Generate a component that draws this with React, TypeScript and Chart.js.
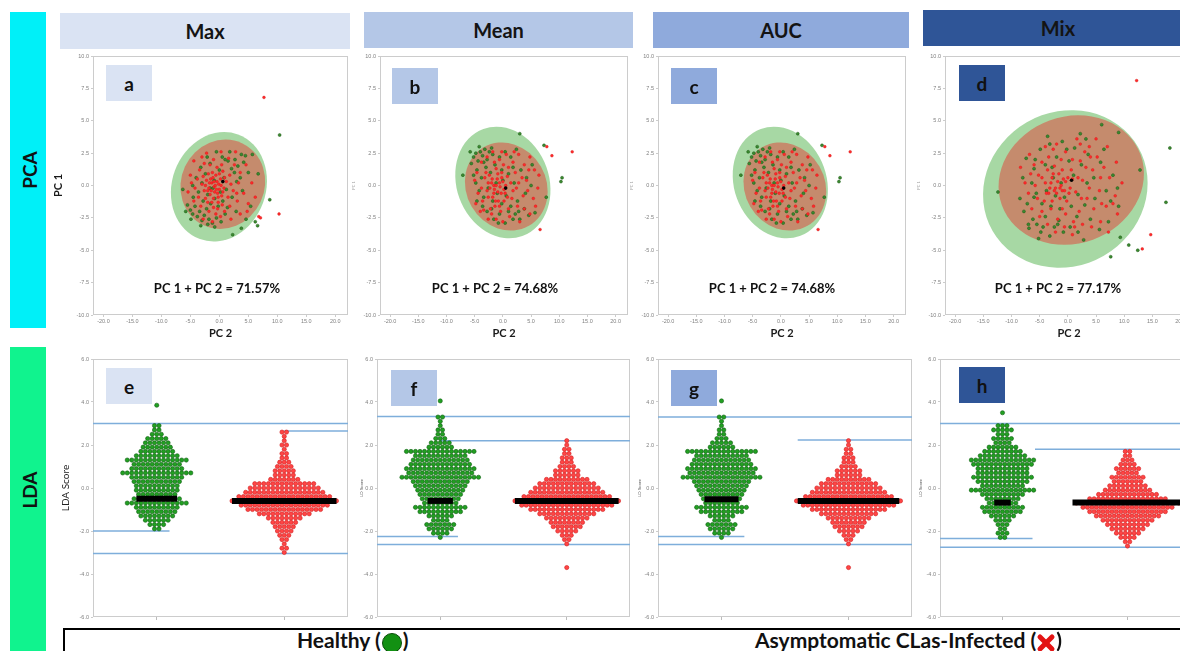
import React, { useEffect, useRef } from "react";
import { Chart, registerables } from "chart.js";

Chart.register(...registerables);

// ---------------- ticks / labels ----------------
const pcaXTicks = [-20, -15, -10, -5, 0, 5, 10, 15, 20];
const pcaYTicks = [-10, -7.5, -5, -2.5, 0, 2.5, 5, 7.5, 10];
const ldaYTicks = [-6, -4, -2, 0, 2, 4, 6];
const ldaGroupCenters = [0.25, 0.75]; // Healthy, Asymptomatic CLas-Infected

const featureSets = ["Max", "Mean", "AUC", "Mix"];
const pcaLetters = ["a", "b", "c", "d"];
const ldaLetters = ["e", "f", "g", "h"];
const pcaVariance = ["PC 1 + PC 2 = 71.57%", "PC 1 + PC 2 = 74.68%", "PC 1 + PC 2 = 74.68%", "PC 1 + PC 2 = 77.17%"];

// ---------------- PCA scores [PC2, PC1] ----------------
const pcaMaxHealthy = [
  [-6.3, -0.3], [-5.5, -1.5], [-5.0, -1.9], [-4.6, -2.2], [-4.2, -1.6], [-3.8, -2.4], [-3.4, -2.0], [-3.0, -2.7],
  [-2.6, -2.3], [-2.2, -1.8], [-1.8, -2.6], [-1.2, -2.9], [-0.5, -2.5], [0.3, -2.8], [1.0, -2.2], [-4.5, -0.9],
  [-3.6, -0.5], [-2.8, -1.2], [-2.0, -0.7], [-1.5, -1.4], [-0.8, -1.0], [-0.2, -1.6], [0.6, -1.2], [1.4, -1.7],
  [2.2, -0.9], [-4.0, 0.6], [-3.2, 1.4], [-2.4, 0.9], [-1.6, 1.7], [-0.9, 0.4], [0.0, 1.2], [0.8, 0.6],
  [1.5, 1.9], [2.1, 1.3], [2.7, 2.0], [3.2, 1.5], [3.8, 2.4], [4.5, 2.3], [5.0, 1.0], [5.7, 2.4],
  [6.7, 0.9], [1.8, 2.6], [0.5, 2.2], [-0.5, 2.6], [3.0, 0.3], [4.0, -0.4], [2.9, -2.0], [3.8, -3.3],
  [2.3, -3.8], [6.2, -2.8], [6.6, -3.1], [8.7, -1.1], [10.4, 3.9], [-2.1, 2.2], [1.2, -0.3], [-1.1, -0.2],
  [-5.8, -2.0], [-4.9, -2.6], [-3.2, -3.1], [-2.0, -3.0], [-0.8, -3.2], [2.6, 1.0], [3.6, 0.6], [4.2, 1.8],
  [1.0, 2.0], [-1.6, -0.2], [-3.0, 0.2], [-4.6, 0.0], [5.4, -1.6], [4.6, -2.6], [0.2, -0.5],
];
const pcaMaxInfected = [
  [-1.8, -0.2], [-1.3, 0.2], [-0.8, -0.5], [-0.4, 0.3], [0.0, -0.3], [0.4, -0.8], [-1.0, -1.0], [-1.6, -0.7],
  [-2.2, 0.4], [-2.6, -0.4], [-0.6, 0.8], [0.2, 0.5], [-1.2, 1.0], [0.8, -0.2], [-0.2, -1.3], [-2.0, -1.3],
  [-3.0, 0.1], [1.2, 0.3], [-0.9, -0.1], [-0.3, -0.6], [-1.5, 0.5], [0.6, 1.1], [-3.4, 1.2], [-4.2, -0.2],
  [-5.0, 0.8], [-4.4, 1.9], [-3.0, 2.2], [-2.2, 2.5], [-1.0, 2.0], [0.3, 2.6], [1.6, 2.1], [2.6, 1.6],
  [3.6, 1.0], [4.6, 1.6], [5.6, 0.2], [6.2, -0.9], [5.0, -1.4], [4.2, -0.6], [3.1, -1.2], [2.4, -0.4],
  [1.8, -1.6], [0.9, -2.0], [-0.6, -2.2], [-1.8, -2.0], [-3.2, -1.6], [-4.4, -1.2], [-2.8, -2.6], [-1.2, -2.8],
  [0.2, -2.4], [2.0, -2.6], [3.6, -2.2], [4.8, -2.0], [2.8, 2.6], [-3.8, 0.5], [1.8, 0.8], [3.3, 0.2],
  [-5.4, -0.5], [6.8, -2.4], [7.1, -2.5], [10.3, -2.2], [7.7, 6.8], [-0.1, 0.1], [0.5, -1.5], [-2.4, -1.0],
  [-1.6, 1.6], [-0.4, 1.4], [-1.4, -0.4], [-0.7, 0.0], [-0.2, -0.9], [0.3, 0.0], [-1.1, 0.6], [-2.0, -0.4],
  [-1.7, 0.2], [-0.5, -0.3], [0.6, -0.5], [-1.3, -1.3], [-2.4, 0.0], [-0.9, 0.3], [0.0, 0.9], [-1.9, 0.9],
  [0.9, 0.6], [-0.3, -1.8], [1.5, -0.9], [-2.8, 0.7], [-3.6, -0.9], [2.0, 0.1], [-1.0, -1.7], [0.4, 1.6],
  [-2.6, 1.7], [3.0, -0.6], [-4.8, 0.2],
];
const pcaMeanHealthy = [
  [-7.1, 0.8], [-5.2, 2.2], [-4.8, 2.5], [-4.4, 1.9], [-4.0, 2.6], [-3.6, 2.3], [-3.2, 2.8], [-2.8, 2.0],
  [-2.4, 2.6], [-2.0, 2.9], [-5.6, 1.7], [-4.6, 1.2], [-3.8, 0.6], [-3.0, 1.4], [-2.2, 1.0], [-1.4, 1.6],
  [-0.6, 2.2], [0.4, 2.6], [1.4, 2.2], [2.4, 2.8], [3.0, 4.0], [7.3, 3.1], [-4.2, -0.4], [-3.4, -0.9],
  [-2.6, -0.2], [-1.8, -1.2], [-1.0, -0.6], [-0.2, -1.4], [0.6, -0.8], [1.4, -1.6], [2.2, -2.2], [3.0, -2.6],
  [3.8, -1.8], [4.6, -2.3], [5.7, -2.1], [7.7, -0.9], [10.3, 0.3], [10.5, 0.6], [-2.8, -2.0], [-1.6, -2.6],
  [-0.6, -2.2], [0.4, -2.9], [1.8, -2.6], [-3.6, -1.6], [0.0, 0.4], [1.0, 0.9], [2.0, 0.2], [3.2, 1.2],
  [4.2, 0.6], [5.2, 1.6], [-1.2, 0.2], [-4.8, 0.2], [-5.8, 2.6], [-4.2, 3.0], [-3.4, 1.8], [-1.8, 2.4],
  [-0.2, 1.2], [1.8, 1.4], [2.6, -1.2], [4.0, -0.6], [-4.6, -1.2], [-2.0, -1.8], [-0.8, -2.9], [1.0, -2.0],
  [2.8, -2.0], [5.0, 0.0], [-5.2, 0.8],
];
const pcaMeanInfected = [
  [-2.0, 0.2], [-1.5, -0.3], [-1.0, 0.5], [-0.5, -0.1], [0.0, 0.3], [0.4, -0.6], [-1.8, -0.9], [-2.4, 0.8],
  [-0.8, -1.2], [-0.2, 1.0], [-1.2, 1.3], [-2.8, -0.4], [0.8, 0.7], [-3.2, 0.6], [-1.4, -1.6], [-0.4, -2.0],
  [-2.2, -1.8], [-3.6, -1.2], [-4.4, -0.6], [-5.0, 0.4], [-4.6, 1.0], [-3.8, 1.8], [-2.8, 2.2], [-1.8, 2.6],
  [-0.6, 2.0], [0.6, 2.4], [1.8, 1.8], [2.8, 2.4], [3.8, 1.6], [4.8, 2.2], [5.6, 1.2], [6.2, -0.2],
  [5.4, -1.0], [4.4, -0.4], [3.4, 0.6], [2.4, -0.2], [1.6, -1.0], [2.6, -1.6], [3.8, -1.8], [4.8, -2.2],
  [1.2, -2.4], [0.0, -2.8], [-1.2, -2.6], [-2.6, -2.6], [-4.0, -2.0], [1.4, 0.2], [2.2, 1.0], [4.2, 0.4],
  [5.8, -1.6], [3.0, -2.8], [6.6, -3.4], [7.8, 3.0], [8.7, 2.3], [12.3, 2.6], [-1.6, 0.0], [-0.9, -0.5],
  [0.2, -1.2], [-2.6, -0.9], [-0.2, 0.6], [-3.4, -1.9], [1.0, 1.4], [-4.8, -1.4], [6.4, 0.8],
  [-1.6, -0.6], [-1.2, 0.0], [-0.6, 0.2], [-0.3, -0.6], [-1.9, 0.5], [-2.3, -0.2], [-0.9, 0.9], [0.2, -0.3],
  [-1.3, -1.2], [-2.6, 0.2], [0.5, 0.0], [-0.6, -1.6], [0.8, -0.9], [-3.0, 1.0], [-1.5, 1.8], [0.1, 1.6],
  [1.8, -0.4], [2.8, 0.2], [-3.8, -0.2], [-2.0, -2.2], [3.6, -0.8], [1.0, -1.8], [4.6, 1.2], [-0.2, 2.6],
  [2.0, 2.6],
];
// Mean and AUC feature sets give the same projection
const pcaAucHealthy = pcaMeanHealthy;
const pcaAucInfected = pcaMeanInfected;
const pcaMixHealthy = [
  [-12.4, -0.5], [-8.5, -1.0], [-7.8, -2.0], [-6.9, -3.3], [-6.2, -2.6], [-5.5, -3.0], [-4.8, -3.6], [-4.0, -2.4],
  [-3.2, -3.9], [-2.4, -3.2], [-1.6, -2.7], [-0.8, -3.6], [0.4, -3.2], [1.6, -2.4], [-7.2, -1.4], [-6.4, 0.2],
  [-5.6, -0.6], [-4.6, -1.4], [-3.8, -0.4], [-3.0, -1.6], [-2.2, -0.8], [-1.4, -1.8], [-0.6, -0.9], [0.6, -1.6],
  [1.8, -0.7], [3.0, -1.5], [-7.4, 2.1], [-6.0, 1.3], [-4.9, 2.8], [-4.0, 1.6], [-3.2, 3.2], [-2.0, 2.2],
  [-1.0, 3.4], [0.2, 1.9], [1.2, 2.9], [2.4, 1.6], [3.6, 2.4], [4.6, 0.6], [5.8, 1.8], [6.8, -0.4],
  [8.0, 0.8], [9.0, -1.6], [7.2, -2.8], [5.6, -3.4], [4.0, -2.6], [2.8, -4.2], [6.0, 4.7], [9.0, 4.1],
  [12.8, 1.2], [18.1, 2.9], [17.4, -1.3], [9.3, -4.0], [10.8, -4.6], [12.4, -5.0], [7.6, -5.5], [-2.6, 0.6],
  [-1.2, 0.2], [1.0, 0.8], [3.2, 3.6], [-5.2, -4.1], [-8.0, 0.6], [-7.0, -3.0], [-5.8, 2.0], [-4.4, -3.2],
  [-2.8, 1.4], [-1.8, -3.0], [-0.2, 2.8], [1.8, -3.6], [3.4, 0.2], [4.8, -1.0], [6.4, 2.8], [7.6, -1.2],
  [-6.0, -0.9], [-3.6, 3.8], [2.2, 4.0], [8.8, -0.2],
];
const pcaMixInfected = [
  [-8.4, 1.4], [-7.6, 0.2], [-6.8, 2.4], [-6.0, 1.6], [-5.2, 0.8], [-4.6, 1.8], [-4.0, 0.2], [-3.4, -0.6],
  [-2.8, 0.6], [-2.2, -0.2], [-1.6, 0.9], [-1.0, -0.4], [-0.4, 0.3], [0.2, -0.6], [0.8, 0.5], [-3.6, 1.2],
  [-2.4, 1.5], [-1.4, -1.0], [-0.2, -1.2], [1.4, -0.5], [2.2, 1.9], [3.0, 2.6], [3.8, 3.0], [2.6, 0.4],
  [4.4, 1.2], [5.2, 2.2], [6.4, 1.4], [7.4, 0.6], [8.4, -0.8], [6.8, -1.6], [5.6, -0.4], [4.6, -1.8],
  [3.4, -1.0], [2.0, -2.0], [1.0, -2.8], [-0.4, -2.2], [-1.8, -2.6], [-3.0, -1.8], [-4.2, -1.2], [-5.4, -1.0],
  [-6.4, -1.8], [-5.0, -2.4], [-3.6, -3.0], [-2.2, -3.6], [-0.6, -3.2], [0.8, -3.8], [2.6, -3.0], [4.2, -3.2],
  [5.8, -2.8], [7.2, -3.6], [8.8, -2.2], [9.6, 0.2], [8.6, 1.8], [7.0, 3.0], [5.0, 3.6], [-0.4, 2.6],
  [-2.0, 3.2], [-4.0, 3.0], [0.8, 2.0], [1.6, 3.6], [12.2, 8.1], [14.7, -3.8], [13.2, -4.9], [-1.2, 0.0],
  [-0.6, -0.4], [-2.0, -0.6], [0.0, 0.6], [-3.2, -0.2], [-3.0, 0.2], [-2.4, -0.4], [-1.8, 0.3], [-1.4, -0.2],
  [-0.8, 0.5], [-2.6, 0.9], [-3.8, -0.6], [-1.0, 1.2], [0.4, -0.2], [-4.6, 0.6], [-5.8, 0.0], [-6.6, 0.9],
  [-3.4, 2.2], [-1.2, 2.0], [0.6, 1.2], [1.8, 0.6], [3.2, 1.4], [4.0, 2.2], [5.8, 0.6], [3.8, -0.2],
  [2.4, -1.0], [-1.0, -1.8], [-2.8, -1.2], [-4.6, -2.0], [6.0, -1.4], [2.2, 3.2], [-2.6, 2.8], [-7.0, -0.6],
  [8.0, -1.4], [1.2, -3.2],
];
const pcaCentroids = [[0.6, 0.3], [0.5, -0.2], [0.5, -0.2], [0.65, 0.4]];
// confidence ellipses: [centre PC2, centre PC1, radius PC2, radius PC1, tilt deg]
const pcaMaxEllipses = [[-0.07, -0.1, 8.1, 4.3, 20], [0.6, 0.1, 7.2, 3.5, 25]];
const pcaMeanEllipses = [[0.0, 0.23, 8.2, 4.4, -20], [0.6, -0.08, 7.1, 3.5, -30]];
const pcaAucEllipses = [[-0.1, 0.23, 8.2, 4.4, -20], [0.7, -0.08, 7.1, 3.5, -30]];
const pcaMixEllipses = [[-0.45, -0.27, 14.9, 5.95, -30], [0.6, 0.42, 13.1, 4.9, -20]];

// ---------------- LDA scores: [score level, number of samples] ----------------
const ldaMaxHealthyRows = [
  [3.85, 1], [2.9, 2], [2.7, 2], [2.5, 3], [2.3, 5], [2.1, 6], [1.9, 7], [1.7, 8], [1.5, 10], [1.3, 14],
  [1.1, 11], [0.9, 12], [0.7, 16], [0.5, 12], [0.3, 11], [0.1, 10], [-0.1, 10], [-0.3, 9], [-0.5, 11],
  [-0.7, 14], [-0.9, 10], [-1.1, 9], [-1.3, 8], [-1.5, 6], [-1.7, 4], [-1.9, 2],
];
const ldaMaxInfectedRows = [
  [2.6, 2], [2.4, 1], [2.2, 1], [2.0, 2], [1.8, 1], [1.6, 2], [1.4, 2], [1.2, 3], [1.0, 4], [0.8, 5],
  [0.6, 5], [0.4, 7], [0.2, 14], [0.0, 16], [-0.2, 18], [-0.4, 21], [-0.6, 24], [-0.8, 20], [-1.0, 17],
  [-1.2, 12], [-1.4, 8], [-1.6, 6], [-1.8, 5], [-2.0, 4], [-2.2, 3], [-2.4, 2], [-2.6, 1], [-2.8, 2], [-3.0, 1],
];
const ldaMeanHealthyRows = [
  [4.05, 1], [3.3, 2], [3.1, 1], [2.9, 1], [2.7, 2], [2.5, 2], [2.3, 3], [2.1, 5], [1.9, 6], [1.7, 16],
  [1.5, 12], [1.3, 13], [1.1, 14], [0.9, 16], [0.7, 15], [0.5, 18], [0.3, 13], [0.1, 12], [-0.1, 11],
  [-0.3, 10], [-0.5, 9], [-0.7, 8], [-0.9, 12], [-1.1, 10], [-1.3, 6], [-1.5, 4], [-1.7, 7], [-1.9, 6],
  [-2.1, 4], [-2.3, 1],
];
const ldaMeanInfectedRows = [
  [2.2, 1], [2.0, 1], [1.8, 2], [1.6, 2], [1.4, 3], [1.2, 3], [1.0, 4], [0.8, 6], [0.6, 6], [0.4, 10],
  [0.2, 13], [0.0, 15], [-0.2, 17], [-0.4, 20], [-0.6, 24], [-0.8, 21], [-1.0, 17], [-1.2, 13], [-1.4, 10],
  [-1.6, 8], [-1.8, 7], [-2.0, 5], [-2.2, 3], [-2.4, 2], [-2.6, 1], [-3.7, 1],
];
const ldaAucHealthyRows = ldaMeanHealthyRows;
const ldaAucInfectedRows = ldaMeanInfectedRows;
const ldaMixHealthyRows = [
  [3.5, 1], [2.9, 3], [2.7, 5], [2.5, 3], [2.3, 5], [2.1, 4], [1.9, 7], [1.7, 9], [1.5, 11], [1.3, 15],
  [1.1, 14], [0.9, 12], [0.7, 12], [0.5, 14], [0.3, 12], [0.1, 10], [-0.1, 15], [-0.3, 10], [-0.5, 8],
  [-0.7, 7], [-0.9, 10], [-1.1, 9], [-1.3, 6], [-1.5, 4], [-1.7, 3], [-1.9, 2], [-2.1, 3], [-2.3, 2],
];
const ldaMixInfectedRows = [
  [1.7, 2], [1.5, 2], [1.3, 3], [1.1, 4], [0.9, 6], [0.7, 5], [0.5, 8], [0.3, 7], [0.1, 9], [-0.1, 11],
  [-0.3, 14], [-0.5, 18], [-0.7, 24], [-0.9, 21], [-1.1, 18], [-1.3, 15], [-1.5, 12], [-1.7, 10], [-1.9, 8],
  [-2.1, 6], [-2.3, 4], [-2.5, 2], [-2.7, 1],
];
// group medians [Healthy, Infected]
const ldaMaxMedians = [-0.5, -0.6];
const ldaMeanMedians = [-0.6, -0.6];
const ldaAucMedians = [-0.52, -0.6];
const ldaMixMedians = [-0.68, -0.68];
// threshold lines [score, from, to] (from/to in group-axis fraction)
const ldaMaxLines = [[3.0, 0, 1], [2.65, 0.75, 1], [-2.0, 0, 0.3], [-3.05, 0, 1]];
const ldaMeanLines = [[3.32, 0, 1], [2.2, 0.25, 1], [-2.26, 0, 0.32], [-2.63, 0, 1]];
const ldaAucLines = [[3.3, 0, 1], [2.23, 0.55, 1], [-2.26, 0, 0.34], [-2.63, 0, 1]];
const ldaMixLines = [[3.0, 0, 1], [1.8, 0.38, 1], [-2.35, 0, 0.37], [-2.75, 0, 1]];

// ---------------- assembled per panel ----------------
const pcaHealthy = [pcaMaxHealthy, pcaMeanHealthy, pcaAucHealthy, pcaMixHealthy];
const pcaInfected = [pcaMaxInfected, pcaMeanInfected, pcaAucInfected, pcaMixInfected];
const pcaEllipses = [pcaMaxEllipses, pcaMeanEllipses, pcaAucEllipses, pcaMixEllipses];
const ldaHealthy = [ldaMaxHealthyRows, ldaMeanHealthyRows, ldaAucHealthyRows, ldaMixHealthyRows];
const ldaInfected = [ldaMaxInfectedRows, ldaMeanInfectedRows, ldaAucInfectedRows, ldaMixInfectedRows];
const ldaMedians = [ldaMaxMedians, ldaMeanMedians, ldaAucMedians, ldaMixMedians];
const ldaLines = [ldaMaxLines, ldaMeanLines, ldaAucLines, ldaMixLines];

// ---------------- layout & style (not data) ----------------
const headerColors = ["#DAE3F3", "#B4C7E7", "#8FAADC", "#2F5597"];
const headerBoxes = [[60, 13, 290], [364, 12, 269], [653, 12, 256], [923, 10, 270]];
const pcaLayout = [
  { left: 93, width: 255, yw: 45, big: true },
  { left: 380, width: 248, yw: 30, big: false },
  { left: 658, width: 248, yw: 30, big: false },
  { left: 945, width: 248, yw: 30, big: false },
];
const ldaLayout = [
  { left: 93, width: 255, yw: 37, big: true },
  { left: 377, width: 253, yw: 19, big: false },
  { left: 658, width: 254, yw: 22, big: false },
  { left: 940, width: 250, yw: 23, big: false },
];
const pcaLetterBoxes = [[106, 65], [392, 68], [671, 68], [959, 65]];
const ldaLetterBoxes = [[106, 368], [391, 370], [671, 370], [959, 367]];
const pcaTextCenters = [217, 495, 772, 1058];
const ldaBarHalf = [[0.08, 0.205], [0.05, 0.205], [0.067, 0.2], [0.033, 0.22]];
const DOT_GAP = 0.0178;
const PCA_TOP = 56, PCA_H = 259, LDA_TOP = 359, LDA_H = 258;

const tickFont = { family: "'Liberation Sans', Arial, sans-serif", size: 5.5 };
const tickColor = "#808080";
const FONT = "Lato, 'Open Sans', sans-serif";

const toXY = (pts: number[][]) => pts.map(([x, y]) => ({ x, y }));

function swarm(rows: number[][], center: number) {
  const out: { x: number; y: number }[] = [];
  for (const [v, n] of rows) {
    for (let k = 0; k < n; k++) out.push({ x: center + (k - (n - 1) / 2) * DOT_GAP, y: v });
  }
  return out;
}

const framePlugin = {
  id: "frame",
  beforeDatasetsDraw(chart: any) {
    const { ctx, chartArea: a } = chart;
    ctx.save();
    ctx.strokeStyle = "#cccccc";
    ctx.lineWidth = 1;
    ctx.strokeRect(Math.round(a.left) + 0.5, Math.round(a.top) + 0.5, Math.round(a.width) - 1, Math.round(a.height) - 1);
    ctx.restore();
  },
};

function makeEllipsePlugin(shapes: number[][], colors: string[]) {
  return {
    id: "ellipses",
    beforeDatasetsDraw(chart: any) {
      const { ctx, chartArea: a, scales } = chart;
      const xs = scales.x, ys = scales.y;
      ctx.save();
      ctx.beginPath();
      ctx.rect(a.left, a.top, a.width, a.height);
      ctx.clip();
      shapes.forEach(([cx, cy, rx, ry, tilt], i) => {
        const px = xs.getPixelForValue(cx);
        const py = ys.getPixelForValue(cy);
        const rxp = Math.abs(xs.getPixelForValue(cx + rx) - px);
        const ryp = Math.abs(ys.getPixelForValue(cy + ry) - py);
        ctx.beginPath();
        ctx.ellipse(px, py, rxp, ryp, (tilt * Math.PI) / 180, 0, Math.PI * 2);
        ctx.fillStyle = colors[i];
        ctx.fill();
      });
      ctx.restore();
    },
  };
}

const baseOptions = {
  responsive: false,
  animation: false as const,
  events: [] as any[],
  devicePixelRatio: 1,
  layout: { padding: { top: 6, right: 8, left: 0, bottom: 0 } },
  plugins: { legend: { display: false }, tooltip: { enabled: false } },
};

function pcaConfig(i: number): any {
  const L = pcaLayout[i];
  return {
    type: "scatter",
    data: {
      datasets: [
        { data: toXY([pcaCentroids[i]]), pointRadius: 1.8, backgroundColor: "#000", borderWidth: 0 },
        { data: toXY(pcaInfected[i]), pointRadius: 1.4, backgroundColor: "#ff2a2a", borderColor: "#d21a1a", borderWidth: 0.4 },
        { data: toXY(pcaHealthy[i]), pointRadius: 1.5, backgroundColor: "#3b8a2f", borderColor: "#1f5a18", borderWidth: 0.5 },
      ],
    },
    options: {
      ...baseOptions,
      scales: {
        x: {
          type: "linear", min: -21.8, max: 22.2,
          afterBuildTicks: (s: any) => { s.ticks = pcaXTicks.map((v) => ({ value: v })); },
          afterFit: (s: any) => { s.height = 29; },
          ticks: { font: tickFont, color: tickColor, padding: 1, autoSkip: false, maxRotation: 0, callback: (v: any) => Number(v).toFixed(1) },
          grid: { drawOnChartArea: false, tickLength: 2, color: "#cccccc" },
          border: { display: false },
          title: { display: true, text: "PC 2", color: "#1a1a1a", font: { family: FONT, weight: "bold", size: 11 }, padding: { top: 0, bottom: 4 } },
        },
        y: {
          type: "linear", min: -10, max: 10,
          afterBuildTicks: (s: any) => { s.ticks = pcaYTicks.map((v) => ({ value: v })); },
          afterFit: (s: any) => { s.width = L.yw; },
          ticks: { font: tickFont, color: tickColor, padding: 2, autoSkip: false, callback: (v: any) => Number(v).toFixed(1) },
          grid: { drawOnChartArea: false, tickLength: 2, color: "#cccccc" },
          border: { display: false },
          title: L.big
            ? { display: true, text: "PC 1", color: "#1a1a1a", font: { family: FONT, weight: "bold", size: 11 }, padding: { top: 4, bottom: 0 } }
            : { display: true, text: "PC 1", color: "#a0a0a0", font: { family: FONT, size: 4 }, padding: { top: 1, bottom: 0 } },
        },
      },
    },
    plugins: [makeEllipsePlugin(pcaEllipses[i], ["rgba(120,195,115,0.65)", "rgba(205,120,95,0.8)"]), framePlugin],
  };
}

function ldaConfig(i: number): any {
  const L = ldaLayout[i];
  const [cH, cI] = ldaGroupCenters;
  const med = ldaMedians[i];
  const half = ldaBarHalf[i];
  const bar = (c: number, m: number, h: number) => ({
    data: [{ x: c - h, y: m }, { x: c + h, y: m }],
    showLine: true, borderColor: "#000", borderWidth: 6, pointRadius: 0, borderCapStyle: "butt",
  });
  const lines = ldaLines[i].map(([y, x0, x1]) => ({
    data: [{ x: x0, y }, { x: x1, y }],
    showLine: true, borderColor: "#7eaedb", borderWidth: 1.5, pointRadius: 0,
  }));
  return {
    type: "scatter",
    data: {
      datasets: [
        bar(cH, med[0], half[0]),
        bar(cI, med[1], half[1]),
        { data: swarm(ldaHealthy[i], cH), pointRadius: 2.1, backgroundColor: "#22a022", borderColor: "#0e5e10", borderWidth: 0.6 },
        { data: swarm(ldaInfected[i], cI), pointRadius: 2.1, backgroundColor: "#ff4545", borderColor: "#d01c1c", borderWidth: 0.6 },
        ...lines,
      ],
    },
    options: {
      ...baseOptions,
      scales: {
        x: {
          type: "linear", min: 0, max: 1,
          afterBuildTicks: (s: any) => { s.ticks = ldaGroupCenters.map((v) => ({ value: v })); },
          afterFit: (s: any) => { s.height = 6; },
          ticks: { display: false },
          grid: { drawOnChartArea: false, tickLength: 3, color: "#bbbbbb" },
          border: { display: false },
        },
        y: {
          type: "linear", min: -6, max: 6,
          afterBuildTicks: (s: any) => { s.ticks = ldaYTicks.map((v) => ({ value: v })); },
          afterFit: (s: any) => { s.width = L.yw; },
          ticks: { font: tickFont, color: tickColor, padding: 2, autoSkip: false, callback: (v: any) => Number(v).toFixed(1) },
          grid: { drawOnChartArea: false, tickLength: 2, color: "#cccccc" },
          border: { display: false },
          title: L.big
            ? { display: true, text: "LDA Score", color: "#222", font: { family: FONT, size: 10 }, padding: { top: 4, bottom: 0 } }
            : { display: true, text: "LD Score", color: "#555", font: { family: FONT, size: 4.5 }, padding: { top: 1, bottom: 0 } },
        },
      },
    },
    plugins: [framePlugin],
  };
}

function ChartCanvas(props: { left: number; top: number; width: number; height: number; make: () => any }) {
  const ref = useRef<HTMLCanvasElement | null>(null);
  useEffect(() => {
    const chart = new Chart(ref.current as HTMLCanvasElement, props.make());
    return () => chart.destroy();
  }, []);
  return (
    <canvas
      ref={ref}
      width={props.width}
      height={props.height}
      style={{ position: "absolute", left: props.left, top: props.top, width: props.width, height: props.height }}
    />
  );
}

const abs = (o: any) => ({ position: "absolute" as const, ...o });

function RotLabel({ x, y, text }: { x: number; y: number; text: string }) {
  return (
    <div
      style={abs({
        left: x, top: y, transform: "translate(-50%,-50%) rotate(-90deg)",
        font: `bold 19px ${FONT}`, lineHeight: "19px", whiteSpace: "nowrap", color: "#111",
      })}
    >
      {text}
    </div>
  );
}

function LetterBox({ x, y, color, letter }: { x: number; y: number; color: string; letter: string }) {
  return (
    <div
      style={abs({
        left: x, top: y, width: 46, height: 36, background: color, display: "flex",
        alignItems: "center", justifyContent: "center", font: `bold 19px ${FONT}`, color: "#111",
      })}
    >
      {letter}
    </div>
  );
}

export default function App() {
  return (
    <div style={abs({ left: 0, top: 0, width: 1180, height: 651, overflow: "hidden", background: "#fff" })}>
      {/* side bars */}
      <div style={abs({ left: 10, top: 12, width: 36, height: 316, background: "#00F0F8" })} />
      <RotLabel x={29} y={170} text="PCA" />
      <div style={abs({ left: 10, top: 347, width: 36, height: 310, background: "#10F38E" })} />
      <RotLabel x={29} y={490} text="LDA" />

      {/* column headers */}
      {featureSets.map((name, i) => (
        <div
          key={name}
          style={abs({
            left: headerBoxes[i][0], top: headerBoxes[i][1], width: headerBoxes[i][2], height: 36,
            background: headerColors[i], display: "flex", alignItems: "center", justifyContent: "center",
            font: `bold 20px ${FONT}`, color: "#141414",
          })}
        >
          {name}
        </div>
      ))}

      {/* PCA charts */}
      {pcaLayout.map((L, i) => (
        <ChartCanvas
          key={"pca" + i}
          left={L.left - L.yw}
          top={PCA_TOP - 6}
          width={L.yw + L.width + 8}
          height={6 + PCA_H + 29}
          make={() => pcaConfig(i)}
        />
      ))}
      {pcaLetters.map((l, i) => (
        <LetterBox key={l} x={pcaLetterBoxes[i][0]} y={pcaLetterBoxes[i][1]} color={headerColors[i]} letter={l} />
      ))}
      {pcaVariance.map((t, i) => (
        <div
          key={"v" + i}
          style={abs({
            left: pcaTextCenters[i] - 110, top: 281, width: 220, textAlign: "center",
            font: `bold 13px ${FONT}`, lineHeight: "14px", color: "#111",
          })}
        >
          {t}
        </div>
      ))}

      {/* LDA charts */}
      {ldaLayout.map((L, i) => (
        <ChartCanvas
          key={"lda" + i}
          left={L.left - L.yw}
          top={LDA_TOP - 6}
          width={L.yw + L.width + 8}
          height={6 + LDA_H + 6}
          make={() => ldaConfig(i)}
        />
      ))}
      {ldaLetters.map((l, i) => (
        <LetterBox key={l} x={ldaLetterBoxes[i][0]} y={ldaLetterBoxes[i][1]} color={headerColors[i]} letter={l} />
      ))}

      {/* legend box */}
      <div style={abs({ left: 63, top: 628, width: 1140, height: 40, border: "2px solid #000", boxSizing: "border-box" })} />
      <div style={abs({ left: 297, top: 629, display: "flex", alignItems: "flex-start", font: `bold 21px ${FONT}`, lineHeight: "21px", color: "#111", whiteSpace: "pre" })}>
        <span>Healthy (</span>
        <span style={{ display: "inline-block", width: 18, height: 18, borderRadius: "50%", background: "#129012", border: "1.5px solid #0a4d0a", marginTop: 4, marginLeft: 1, marginRight: 1 }} />
        <span>)</span>
      </div>
      <div style={abs({ left: 755, top: 629, display: "flex", alignItems: "flex-start", font: `bold 21px ${FONT}`, lineHeight: "21px", color: "#111", whiteSpace: "pre" })}>
        <span>Asymptomatic CLas-Infected (</span>
        <svg width="20" height="20" viewBox="0 0 20 20" style={{ marginTop: 4 }}>
          <line x1="4" y1="4" x2="16" y2="16" stroke="#e31414" strokeWidth="5" strokeLinecap="round" />
          <line x1="16" y1="4" x2="4" y2="16" stroke="#e31414" strokeWidth="5" strokeLinecap="round" />
        </svg>
        <span>)</span>
      </div>
    </div>
  );
}
